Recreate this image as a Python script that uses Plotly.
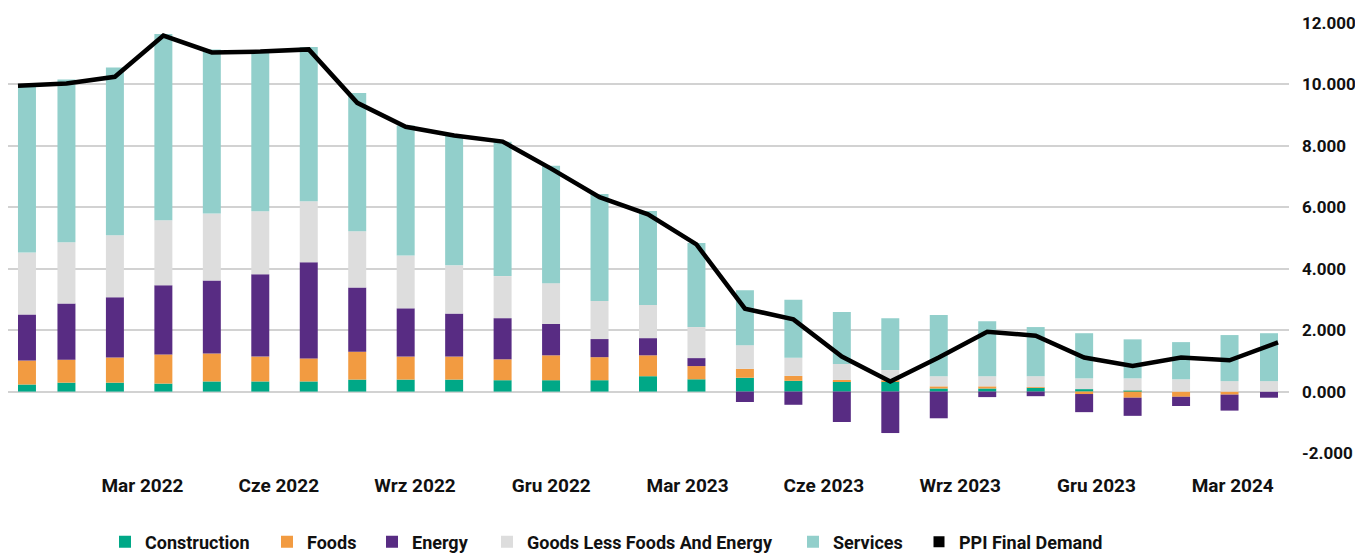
import plotly.graph_objects as go

months = ["2022-01", "2022-02", "2022-03", "2022-04", "2022-05", "2022-06", "2022-07",
          "2022-08", "2022-09", "2022-10", "2022-11", "2022-12", "2023-01", "2023-02",
          "2023-03", "2023-04", "2023-05", "2023-06", "2023-07", "2023-08", "2023-09",
          "2023-10", "2023-11", "2023-12", "2024-01", "2024-02", "2024-03"]

construction = [0.23, 0.29, 0.29, 0.26, 0.33, 0.33, 0.33, 0.39, 0.39, 0.39, 0.37, 0.37, 0.37, 0.50,
                0.40, 0.45, 0.35, 0.32, 0.32, 0.10, 0.10, 0.12, 0.08, 0.03, 0.00, 0.00, 0.00]
foods = [0.78, 0.75, 0.82, 0.95, 0.91, 0.81, 0.75, 0.91, 0.75, 0.75, 0.68, 0.81, 0.75, 0.68,
         0.43, 0.29, 0.16, 0.06, 0.04, 0.07, 0.07, 0.02, -0.08, -0.20, -0.17, -0.10, 0.00]
energy = [1.50, 1.83, 1.96, 2.25, 2.38, 2.68, 3.13, 2.09, 1.57, 1.40, 1.34, 1.02, 0.59, 0.56,
          0.26, -0.34, -0.43, -0.99, -1.35, -0.87, -0.18, -0.15, -0.59, -0.59, -0.30, -0.52, -0.20]
goods = [2.02, 1.99, 2.02, 2.12, 2.18, 2.05, 1.99, 1.83, 1.72, 1.57, 1.37, 1.33, 1.24, 1.08,
         1.01, 0.77, 0.59, 0.52, 0.34, 0.33, 0.33, 0.36, 0.35, 0.40, 0.40, 0.34, 0.34]
services = [5.43, 5.30, 5.46, 6.06, 5.34, 5.16, 5.02, 4.50, 4.23, 4.23, 4.37, 3.82, 3.48, 3.06,
            2.74, 1.79, 1.89, 1.69, 1.69, 1.99, 1.79, 1.60, 1.47, 1.27, 1.21, 1.50, 1.56]
ppi = [9.96, 10.03, 10.25, 11.59, 11.04, 11.07, 11.14, 9.40, 8.62, 8.34, 8.14, 7.26, 6.33, 5.77,
       4.79, 2.70, 2.35, 1.14, 0.33, 1.11, 1.95, 1.82, 1.11, 0.83, 1.11, 1.02, 1.60]

tick_labels = ["Mar 2022", "Cze 2022", "Wrz 2022", "Gru 2022", "Mar 2023",
               "Cze 2023", "Wrz 2023", "Gru 2023", "Mar 2024"]
y_ticks = [-2, 0, 2, 4, 6, 8, 10, 12]

series = [
    ("Construction", construction, "#00A887", 117),
    ("Foods", foods, "#F29B41", 60),
    ("Energy", energy, "#582C83", 70),
    ("Goods Less Foods And Energy", goods, "#DDDDDD", 261),
    ("Services", services, "#92CFCB", 81),
]

n = len(months)
xs = list(range(n))
bw = 0.371
offsets = [0.0] + [-bw / 2] * (n - 2) + [-bw]

FONT = "Roboto"
W, H = 1355, 545   # page body keeps an 8px margin

fig = go.Figure()
for name, vals, col, lw in series:
    fig.add_trace(go.Bar(x=xs, y=vals, name=name, marker=dict(color=col, line=dict(width=0)),
                         width=bw, offset=offsets, legendwidth=lw))
fig.add_trace(go.Scatter(x=xs, y=ppi, mode="lines", name="PPI Final Demand",
                         line=dict(color="#000000", width=4.5), showlegend=False))
fig.add_trace(go.Scatter(x=[None], y=[None], mode="markers", name="PPI Final Demand",
                         marker=dict(symbol="square", size=11, color="#000000"),
                         legendwidth=170))

tick_start, tick_step = 2.569, 2.812
fig.update_layout(
    barmode="relative",
    width=W, height=H,
    margin=dict(l=0, r=74, t=15, b=100, autoexpand=False),
    paper_bgcolor="white", plot_bgcolor="white",
    font=dict(family=FONT, size=18, color="#111111"),
    legend=dict(orientation="h", xref="container", yref="container",
                x=97 / W, xanchor="left", y=11 / H, yanchor="middle",
                font=dict(family=FONT, size=18, color="#111111", weight="bold"),
                itemwidth=30, traceorder="normal", bgcolor="rgba(0,0,0,0)"),
    xaxis=dict(range=[-0.206, 26.227], showgrid=False, zeroline=False, showline=False,
               automargin=False, tickmode="array",
               tickvals=[tick_start + tick_step * k for k in range(len(tick_labels))],
               ticktext=tick_labels, ticks="", ticklabelstandoff=19,
               tickfont=dict(family=FONT, size=19, color="#111111", weight="bold")),
    yaxis=dict(range=[-2, 12], side="right", showgrid=True, gridcolor="#D2D2D2", gridwidth=1.5,
               zeroline=False, showline=False, automargin=False, tickmode="array",
               tickvals=y_ticks, ticktext=[f"{v:.3f}" for v in y_ticks], ticks="",
               ticklabelstandoff=12,
               tickfont=dict(family=FONT, size=17, color="#111111", weight="bold")),
    showlegend=True,
)

fig.write_html("out.html")
